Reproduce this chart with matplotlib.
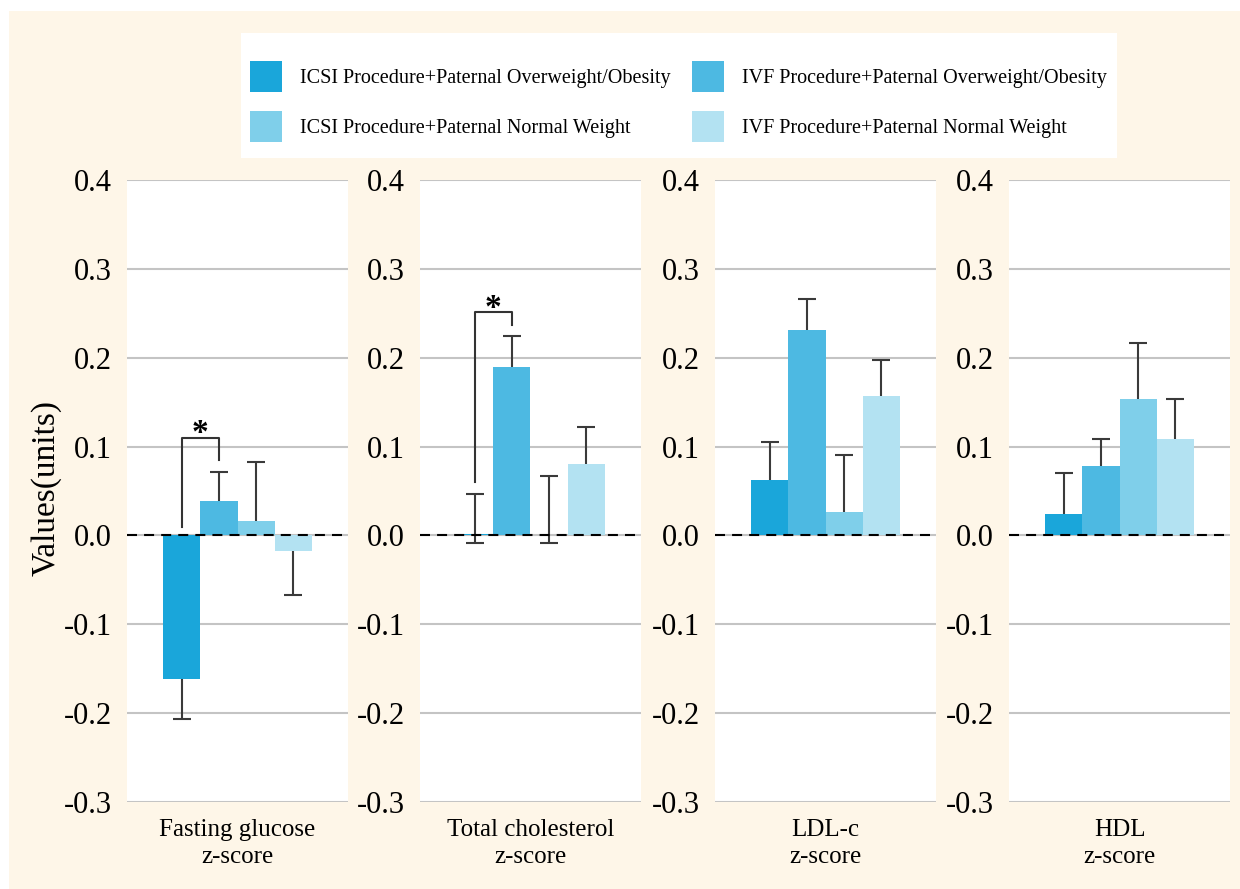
import matplotlib
matplotlib.use("Agg")
import matplotlib.pyplot as plt
from matplotlib.patches import Rectangle, Patch
import numpy as np

plt.rcParams["font.family"] = ["Liberation Serif", "DejaVu Serif"]
plt.rcParams["axes.unicode_minus"] = False

# ---- data -------------------------------------------------------------
groups = [
    "ICSI Procedure+Paternal Overweight/Obesity",
    "IVF Procedure+Paternal Overweight/Obesity",
    "ICSI Procedure+Paternal Normal Weight",
    "IVF Procedure+Paternal Normal Weight",
]
colors = ["#1aa6da", "#4db9e2", "#7fcfea", "#b3e2f2"]

outcomes = [
    "Fasting glucose\nz-score",
    "Total cholesterol\nz-score",
    "LDL-c\nz-score",
    "HDL\nz-score",
]

fasting_glucose = [-0.162, 0.039, 0.016, -0.017]
total_cholesterol = [0.002, 0.189, 0.001, 0.080]
ldl_c = [0.062, 0.231, 0.026, 0.157]
hdl = [0.024, 0.078, 0.154, 0.109]
means = [fasting_glucose, total_cholesterol, ldl_c, hdl]

# error whiskers below / above each mean
err_low = [
    [0.045, 0.0, 0.0, 0.050],
    [0.010, 0.0, 0.009, 0.0],
    [0.0, 0.0, 0.0, 0.0],
    [0.0, 0.0, 0.0, 0.0],
]
err_high = [
    [0.0, 0.032, 0.067, 0.0],
    [0.045, 0.035, 0.066, 0.042],
    [0.043, 0.035, 0.064, 0.040],
    [0.046, 0.031, 0.062, 0.045],
]

# significance brackets: (panel, bar a, bar b, left foot, top, right foot)
brackets = [
    (0, 0, 1, 0.010, 0.110, 0.085),
    (1, 0, 1, 0.060, 0.251, 0.237),
]

yticks = [-0.3, -0.2, -0.1, 0.0, 0.1, 0.2, 0.3, 0.4]

# ---- figure -------------------------------------------------------------
W, H = 1240, 889
fig = plt.figure(figsize=(W / 100, H / 100), dpi=100)
fig.patch.set_facecolor("white")

bg = Rectangle((9 / W, 0), 1 - 9 / W, 1 - 11 / H, transform=fig.transFigure,
               facecolor="#fef6e8", edgecolor="none", zorder=-10)
fig.patches.append(bg)

lefts = [127, 420, 715, 1009]
ax_w = 221
ax_bottom = 802
ax_top = 180

bar_w = 0.1675
xpos = (np.arange(4) - 1.5) * bar_w
err_color = "#3a3a3a"

for i, (left, label) in enumerate(zip(lefts, outcomes)):
    ax = fig.add_axes([left / W, (H - ax_bottom) / H, ax_w / W,
                       (ax_bottom - ax_top) / H])
    ax.set_facecolor("white")
    ax.set_xlim(-0.5, 0.5)
    ax.set_ylim(-0.3, 0.4)
    for s in ax.spines.values():
        s.set_visible(False)
    ax.set_yticks(yticks)
    ax.set_yticklabels([f"{v:.1f}" for v in yticks])
    ax.tick_params(axis="y", length=0, labelsize=22, pad=11)
    ax.set_xticks([])
    ax.set_xlabel(label, fontsize=18, labelpad=12, linespacing=1.3)
    ax.grid(axis="y", color="#c4c4c4", linewidth=1.5, zorder=0)
    ax.set_axisbelow(True)

    ax.bar(xpos, means[i], width=bar_w, color=colors, zorder=2)

    m = np.array(means[i])
    lo = m - np.array(err_low[i])
    hi = m + np.array(err_high[i])
    ax.vlines(xpos, lo, hi, color=err_color, linewidth=1.5, zorder=3)
    for x, l, h, el, eh in zip(xpos, lo, hi, err_low[i], err_high[i]):
        if eh > 0:
            ax.plot([x], [h], marker="_", markersize=13, mew=1.5,
                    color=err_color, zorder=3)
        if el > 0:
            ax.plot([x], [l], marker="_", markersize=13, mew=1.5,
                    color=err_color, zorder=3)

    ax.axhline(0, color="black", linewidth=1.5, linestyle=(0, (4.8, 3.4)),
               zorder=4)

for panel, a, b, yl, yt, yr in brackets:
    ax = fig.axes[panel]
    xa, xb = xpos[a], xpos[b]
    ax.plot([xa, xa, xb, xb], [yl, yt, yt, yr], color="#333333",
            linewidth=1.5, zorder=5)
    ax.text((xa + xb) / 2, yt - 0.013, "*", ha="center", va="bottom",
            fontsize=24, fontweight="bold", zorder=5)

fig.text(46 / W, (H - 488) / H, "Values(units)", rotation=90,
         ha="center", va="center", fontsize=24)

# legend panel
box = Rectangle((241 / W, (H - 158) / H), 876 / W, 125 / H,
                transform=fig.transFigure, facecolor="white",
                edgecolor="none", zorder=1)
fig.patches.append(box)

order = [0, 2, 1, 3]
handles = [Patch(facecolor=colors[k], edgecolor="none") for k in order]
labels = [groups[k] for k in order]
fig.legend(handles, labels, loc="upper left",
           bbox_to_anchor=(250 / W, (H - 61) / H), ncol=2, frameon=False,
           fontsize=14.5, handlelength=1.6, handleheight=1.97,
           handletextpad=0.9, columnspacing=1.05, labelspacing=0.95,
           borderpad=0, borderaxespad=0)

fig.savefig("out.png", dpi=100)
